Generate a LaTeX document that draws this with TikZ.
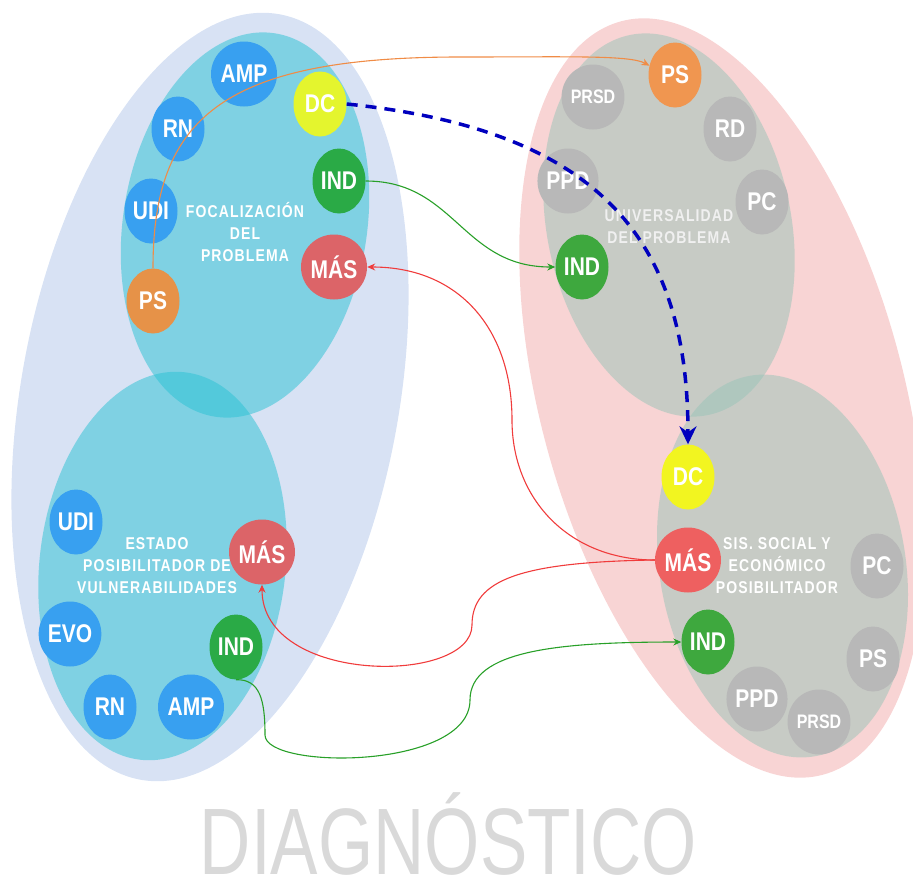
\documentclass[tikz,border=0pt]{standalone}
\usepackage{fontspec}
\usepackage{graphicx}
\setmainfont{Liberation Sans}
\newfontfamily\spacedfont{Liberation Sans}[LetterSpace=8]
\usetikzlibrary{shapes.geometric,arrows.meta}
\definecolor{lav}{RGB}{216,226,244}
\definecolor{pinkbg}{RGB}{248,212,212}
\definecolor{cyanin}{RGB}{40,194,212}
\definecolor{grayin}{RGB}{152,196,184}
\definecolor{bblue}{RGB}{56,160,240}
\definecolor{orgA}{RGB}{230,146,72}
\definecolor{orgB}{RGB}{240,150,80}
\definecolor{yelA}{RGB}{228,245,46}
\definecolor{yelB}{RGB}{242,245,32}
\definecolor{grnA}{RGB}{42,170,70}
\definecolor{grnB}{RGB}{62,168,62}
\definecolor{redA}{RGB}{220,100,104}
\definecolor{redB}{RGB}{238,96,96}
\definecolor{gbub}{RGB}{184,184,184}
\definecolor{bigtxt}{RGB}{217,217,217}
\definecolor{dblue}{RGB}{0,0,190}
\definecolor{lorange}{RGB}{240,140,70}
\definecolor{lgreen}{RGB}{40,160,40}
\definecolor{lred}{RGB}{240,60,60}
\newcommand\vst[1]{\scalebox{1}[1.22]{#1}}
\newcommand\reg[1]{\vst{\begin{tabular}{@{}c@{}}#1\end{tabular}}}
\begin{document}
\begin{tikzpicture}[x=1pt,y=-1pt,
 bub/.style={ellipse, minimum width=53pt, minimum height=65pt, inner sep=0pt, text=white, font=\fontsize{21}{23}\selectfont\bfseries},
 smallbub/.style={bub, font=\fontsize{16}{18}\selectfont\bfseries},
 reglabel/.style={text=white, align=center, font=\spacedfont\bfseries\fontsize{14}{18}\selectfont, inner sep=0pt},
 conn/.style={line width=1.1pt, -{Stealth[length=8pt,width=7pt]}},
]
\useasboundingbox (0,0) rectangle (913,884);
\clip (0,0) rectangle (913,884);
% regions
\fill[lav, rotate around={-10.3:(210,397)}] (210,397) ellipse [x radius=189pt, y radius=389pt];
\fill[pinkbg, rotate around={15:(722,398)}] (722,398) ellipse [x radius=182pt, y radius=390pt];
\fill[cyanin, fill opacity=0.5, rotate around={-8.9:(245,225)}] (245,225) ellipse [x radius=122pt, y radius=194pt];
\fill[cyanin, fill opacity=0.5, rotate around={-6.6:(162.5,566)}] (162.5,566) ellipse [x radius=123pt, y radius=195pt];
\fill[grayin, fill opacity=0.5, rotate around={11.6:(669,225)}] (669,225) ellipse [x radius=122pt, y radius=194pt];
\fill[grayin, fill opacity=0.5, rotate around={9.6:(782.5,566)}] (782.5,566) ellipse [x radius=123pt, y radius=193pt];
% region labels
\node[reglabel] (tFoc) at (245,235) {\reg{FOCALIZACIÓN\\DEL\\PROBLEMA}};
\node[reglabel, text=white!94!black] (tUni) at (669,228) {\reg{UNIVERSALIDAD\\DEL PROBLEMA}};
\node[reglabel] (tEst) at (157,567) {\reg{ESTADO\\POSIBILITADOR DE\\VULNERABILIDADES}};
\node[reglabel] (tSis) at (777,567) {\reg{SIS. SOCIAL Y\\ECONÓMICO\\POSIBILITADOR}};
% top-left bubbles
\node[bub, fill=bblue] (lAMP) at (244,74) {\vst{AMP}};
\node[bub, fill=yelA] (lDC) at (320,104) {\vst{DC}};
\node[bub, fill=bblue] (lRN) at (178,129) {\vst{RN}};
\node[bub, fill=grnA] (lIND) at (339,181) {\vst{IND}};
\node[bub, fill=bblue] (lUDI) at (151,211) {\vst{UDI}};
\node[bub, fill=redA] (lMAS) at (334,267) {\vst{MÁS}};
\node[bub, fill=orgA] (lPS) at (153,301) {\vst{PS}};
% top-right bubbles
\node[bub, fill=orgB] (rPS) at (675,75) {\vst{PS}};
\node[smallbub, fill=gbub] (rPRSD) at (593,97) {\vst{PRSD}};
\node[bub, fill=gbub] (rRD) at (730,129) {\vst{RD}};
\node[bub, fill=gbub] (rPPD) at (568,181) {\vst{PPD}};
\node[bub, fill=gbub] (rPC) at (762,202) {\vst{PC}};
\node[bub, fill=grnB] (rIND) at (582,267) {\vst{IND}};
% bottom-left bubbles
\node[bub, fill=bblue] (bUDI) at (76,522) {\vst{UDI}};
\node[bub, fill=redA] (bMAS) at (262,552) {\vst{MÁS}};
\node[bub, fill=bblue] (bEVO) at (70,634) {\vst{EVO}};
\node[bub, fill=grnA] (bIND) at (236,647) {\vst{IND}};
\node[bub, fill=bblue] (bRN) at (110,707) {\vst{RN}};
\node[bub, fill=bblue] (bAMP) at (191,707) {\vst{AMP}};
% bottom-right bubbles
\node[bub, fill=yelB] (sDC) at (688,477) {\vst{DC}};
\node[bub, fill=redB] (sMAS) at (688,560) {\vst{MÁS}};
\node[bub, fill=grnB] (sIND) at (708,642) {\vst{IND}};
\node[bub, fill=gbub] (sPC) at (877,566) {\vst{PC}};
\node[bub, fill=gbub] (sPS) at (873,659) {\vst{PS}};
\node[bub, fill=gbub] (sPPD) at (757,699) {\vst{PPD}};
\node[smallbub, fill=gbub] (sPRSD) at (819,722) {\vst{PRSD}};
% connectors
\draw[conn, lorange] (lPS.north) .. controls (153,120) and (220,57) .. (460,57) .. controls (570,57) and (630,55) .. (rPS.160);
\draw[dblue, line width=3.5pt, dash pattern=on 11pt off 8pt, -{Stealth[length=18pt,width=17pt,inset=6pt]}] (lDC.east) .. controls (600,130) and (688,240) .. (sDC.north);
\draw[conn, lgreen] (lIND.east) .. controls (455,181) and (462,267) .. (rIND.west);
\draw[conn, lred] (sMAS.west) .. controls (570,560) and (512,500) .. (512,420) .. controls (512,330) and (460,267) .. (lMAS.east);
\draw[conn, lred] (sMAS.west) .. controls (520,562) and (472,580) .. (472,625) .. controls (472,685) and (262,685) .. (bMAS.south);
\draw[conn, lgreen] (bIND.south) .. controls (260,679) and (265,700) .. (265,735) .. controls (265,770) and (470,770) .. (470,700) .. controls (470,650) and (560,642) .. (sIND.west);
% title
\node[anchor=base, text=bigtxt, inner sep=0pt, font=\fontsize{71}{71}\selectfont] (title) at (448.5,874) {\scalebox{1}[1.33]{DIAGNÓSTICO}};
\end{tikzpicture}
\end{document}
